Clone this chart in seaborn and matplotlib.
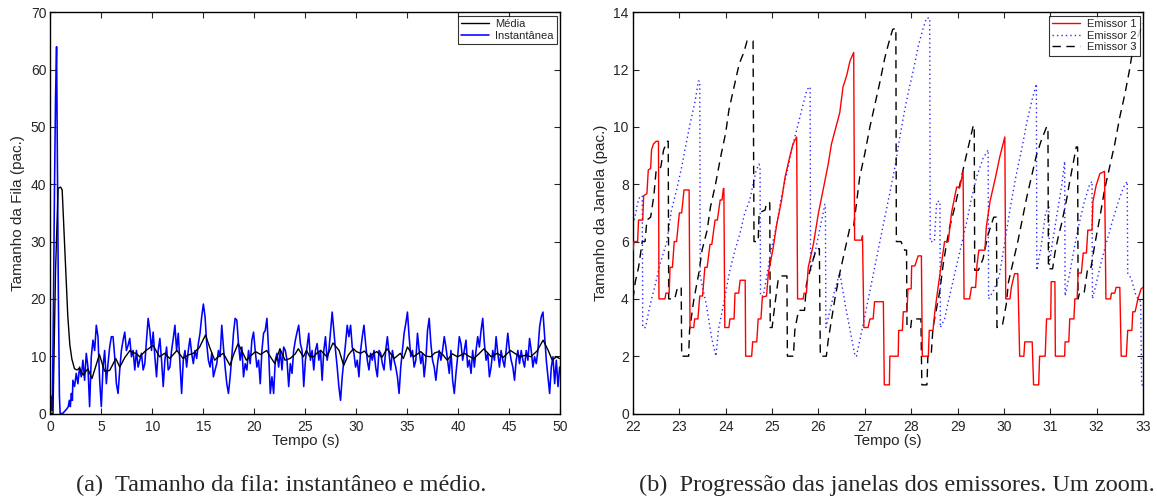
import numpy as np
import pandas as pd
import matplotlib
matplotlib.use("Agg")
import matplotlib.pyplot as plt
import seaborn as sns

# ---------------- (a) queue size: instantaneous and average ----------------
# start-up transient of the instantaneous queue (time s, packets)
inst_inicio_t = [0.0, 0.05, 0.12, 0.2, 0.3, 0.4, 0.5, 0.6, 0.68, 0.78, 0.88, 0.95,
                 1.2, 1.4, 1.6, 1.75, 1.85, 1.95, 2.05, 2.15]
inst_inicio_q = [0, 3.0, 0.5, 3.5, 20, 40, 55, 64, 45, 20, 3, 0,
                 0, 0.4, 0.8, 1.2, 2.3, 1.2, 3.5, 2.3]

# steady-state samples of the instantaneous queue, one every inst_dt seconds
inst_t0 = 2.2
inst_dt = 0.164
inst_q = [
    5.8, 4.7, 7.0, 5.2, 8.1, 6.4, 9.3, 5.8, 10.5, 8.1, 1.2, 9.9, 12.8, 11.0, 15.4, 13.4,
    5.8, 1.2, 8.1, 11.0, 5.2, 8.7, 11.6, 13.4, 13.4, 9.9, 5.2, 3.5, 7.6, 11.0, 12.8, 14.2,
    11.0, 11.9, 13.1, 9.9, 11.0, 7.6, 11.0, 8.1, 9.3, 10.5, 7.6, 8.7, 12.8, 16.6, 14.5, 11.0,
    14.2, 9.9, 6.4, 11.0, 13.1, 9.3, 4.7, 9.3, 11.6, 7.6, 8.1, 11.0, 13.1, 15.4, 11.0, 14.0,
    8.7, 3.5, 9.3, 11.0, 8.1, 11.0, 13.1, 10.5, 8.7, 11.0, 9.6, 12.2, 14.0, 16.9, 19.1, 16.9,
    12.2, 9.3, 8.1, 10.5, 6.4, 7.6, 8.7, 11.0, 9.9, 15.4, 11.6, 8.1, 5.2, 3.5, 6.4, 9.9,
    14.0, 16.6, 16.3, 12.2, 9.3, 11.6, 6.4, 8.7, 7.6, 11.0, 8.7, 12.8, 14.2, 11.0, 8.1, 9.3,
    5.2, 11.0, 14.0, 14.5, 16.6, 11.0, 3.5, 6.4, 3.5, 9.3, 10.5, 8.1, 11.0, 7.6, 11.6, 11.0,
    9.3, 4.7, 8.7, 7.0, 11.0, 12.8, 14.2, 15.4, 12.2, 11.0, 4.7, 9.3, 11.6, 14.0, 9.3, 11.0,
    7.6, 11.0, 12.2, 9.3, 11.0, 5.8, 11.0, 13.4, 9.3, 11.0, 14.2, 17.7, 14.5, 11.0, 8.1, 4.7,
    2.3, 6.4, 9.3, 12.2, 15.4, 13.4, 15.4, 11.6, 10.5, 8.1, 9.3, 6.4, 11.0, 13.4, 15.4, 12.2,
    9.3, 7.6, 10.5, 9.3, 11.0, 8.1, 6.4, 11.0, 10.5, 8.7, 7.6, 11.0, 13.4, 10.5, 7.6, 11.0,
    9.3, 8.1, 6.4, 3.5, 8.1, 11.0, 14.0, 15.7, 17.7, 13.4, 9.9, 11.0, 8.1, 9.3, 14.0, 11.0,
    8.7, 10.5, 6.4, 9.3, 14.5, 16.6, 12.2, 9.3, 8.1, 5.8, 8.7, 11.0, 9.3, 11.0, 13.4, 11.6,
    9.3, 7.0, 11.0, 5.8, 3.5, 7.0, 9.9, 13.4, 12.2, 9.3, 11.0, 12.8, 8.1, 9.3, 7.0, 11.0,
    8.1, 11.0, 13.4, 11.6, 14.5, 16.6, 12.2, 9.3, 10.5, 6.4, 8.1, 11.0, 9.3, 13.4, 10.5, 8.1,
    11.0, 9.3, 8.1, 11.0, 14.0, 11.0, 9.3, 8.1, 5.8, 9.3, 11.0, 8.7, 11.0, 9.3, 8.1, 11.0,
    9.3, 13.1, 11.0, 8.1, 9.9, 8.7, 11.0, 15.1, 16.9, 17.7, 13.4, 9.3, 6.4, 3.5, 8.1, 9.9,
    5.2, 9.3, 4.7, 8.1,
]

# average queue (time s, packets)
media_t = [0.0, 0.25, 0.5, 0.75, 1.0, 1.15, 1.3, 1.5, 1.7, 1.9, 2.1, 2.36, 2.6, 2.85, 3.2,
           3.67, 4.07, 4.4, 4.8, 5.3, 5.8, 6.1, 6.4, 6.8, 7.3, 7.8, 8.1, 8.4, 8.75, 9.3,
           10.07, 10.4, 10.7, 11.2, 11.7, 12.4, 13.0, 13.5, 14.0, 14.6, 15.2, 15.6, 16.1,
           16.5, 16.95, 17.6, 18.0, 18.4, 18.8, 19.2, 19.6, 20.1, 20.6, 21.2, 21.6, 22.0,
           22.5, 23.0, 23.5, 24.0, 24.3, 24.8, 25.1, 25.4, 25.8, 26.1, 26.5, 27.1, 27.7,
           28.3, 28.75, 29.2, 29.7, 30.0, 30.4, 30.8, 31.2, 31.6, 32.0, 32.5, 33.0, 33.7,
           34.3, 34.6, 35.0, 35.6, 36.0, 36.3, 36.8, 37.3, 37.7, 38.1, 38.5, 38.9, 39.4,
           39.9, 40.6, 41.0, 41.5, 42.0, 42.5, 43.2, 43.8, 44.4, 45.1, 45.6, 46.1, 46.6,
           47.1, 47.7, 48.3, 48.8, 49.2, 49.6, 49.9]
media_q = [0, 0, 25, 39.3, 39.5, 39.0, 33, 25, 17, 12, 9.5, 7.8, 7.6, 7.9, 6.7,
           7.8, 6.1, 8.0, 10.3, 7.4, 7.5, 8.5, 9.6, 8.1, 9.8, 11.0, 10.6, 10.5, 9.9, 10.9,
           11.9, 10.8, 9.9, 10.5, 9.6, 11.0, 9.6, 10.2, 10.5, 11.5, 13.7, 11.6, 9.3,
           10.0, 10.5, 8.4, 10.5, 12.2, 10.8, 9.3, 10.0, 10.8, 10.3, 11.0, 9.8, 8.7,
           11.3, 9.3, 9.6, 10.4, 11.3, 9.9, 11.0, 10.0, 9.9, 10.5, 11.0, 9.9, 12.3,
           11.0, 8.4, 10.2, 11.3, 10.8, 10.5, 10.9, 9.9, 10.4, 10.8, 9.8, 11.3, 9.6,
           10.5, 9.6, 11.6, 9.9, 10.4, 10.8, 10.0, 9.9, 10.6, 10.8, 10.2, 9.3, 10.4,
           9.9, 10.5, 10.0, 9.6, 10.4, 11.3, 9.9, 10.5, 9.8, 11.0, 10.4, 9.9, 10.2,
           9.9, 10.9, 12.8, 11.0, 9.3, 9.9, 9.6]

# ---------------- (b) sender congestion windows (zoom 22-33 s) ----------------
emissor1_t = [22.00, 22.02, 22.10, 22.12, 22.21, 22.23, 22.30, 22.33, 22.38, 22.40, 22.44, 22.50,
              22.55, 22.56, 22.69, 22.71, 22.78, 22.80, 22.85, 22.89, 22.94, 23.00, 23.05, 23.10,
              23.21, 23.23, 23.31, 23.33, 23.40, 23.44, 23.50, 23.55, 23.60, 23.66, 23.70, 23.77,
              23.82, 23.88, 23.92, 23.95, 23.96, 23.98, 24.07, 24.09, 24.18, 24.20, 24.28, 24.31,
              24.42, 24.43, 24.56, 24.58, 24.67, 24.70, 24.76, 24.79, 24.88, 24.92, 25.02, 25.10,
              25.20, 25.28, 25.38, 25.45, 25.53, 25.55, 25.67, 25.69, 25.74, 25.78, 25.89, 26.00,
              26.10, 26.21, 26.28, 26.46, 26.53, 26.61, 26.68, 26.76, 26.78, 26.93, 26.95, 26.98,
              27.07, 27.11, 27.18, 27.21, 27.40, 27.42, 27.53, 27.54, 27.72, 27.73, 27.81, 27.83,
              27.91, 27.93, 28.00, 28.01, 28.08, 28.15, 28.22, 28.24, 28.37, 28.39, 28.47, 28.51,
              28.58, 28.65, 28.72, 28.80, 28.87, 28.98, 29.05, 29.12, 29.14, 29.26, 29.30, 29.39,
              29.42, 29.46, 29.59, 29.62, 29.70, 29.82, 29.91, 29.98, 30.02, 30.04, 30.13, 30.16,
              30.23, 30.30, 30.34, 30.43, 30.45, 30.61, 30.64, 30.75, 30.77, 30.89, 30.92, 31.01,
              31.02, 31.10, 31.11, 31.31, 31.32, 31.40, 31.42, 31.51, 31.53, 31.58, 31.60, 31.67,
              31.71, 31.78, 31.81, 31.90, 31.92, 31.99, 32.07, 32.17, 32.20, 32.30, 32.32, 32.39,
              32.42, 32.50, 32.53, 32.64, 32.67, 32.76, 32.78, 32.83, 32.89, 32.96, 33.00]
emissor1_w = [5.7, 6.0, 6.0, 6.75, 6.75, 7.6, 7.67, 8.5, 8.55, 9.2, 9.4, 9.5,
              9.5, 4.0, 4.0, 4.2, 4.2, 5.1, 5.1, 6.0, 6.0, 7.0, 7.0, 7.8,
              7.8, 3.0, 3.0, 3.3, 3.3, 4.1, 4.1, 5.1, 5.1, 5.9, 5.9, 6.75,
              6.75, 7.45, 7.45, 7.85, 7.85, 3.0, 3.0, 3.3, 3.3, 4.2, 4.2, 4.65,
              4.65, 2.0, 2.0, 2.5, 2.5, 3.3, 3.3, 4.06, 4.1, 4.9, 5.75, 6.6,
              7.4, 8.25, 8.95, 9.4, 9.65, 4.0, 4.0, 4.2, 4.2, 5.1, 5.9, 7.0,
              7.8, 8.7, 9.4, 10.5, 11.4, 11.8, 12.3, 12.6, 6.05, 6.05, 6.2, 3.0,
              3.0, 3.3, 3.3, 3.9, 3.9, 1.0, 1.0, 2.0, 2.0, 2.9, 2.9, 3.55,
              3.55, 4.35, 4.35, 5.15, 5.15, 5.5, 5.5, 2.0, 2.0, 2.9, 2.9, 3.55,
              4.4, 5.2, 6.0, 6.0, 7.0, 7.9, 7.9, 8.45, 4.0, 4.0, 4.4, 4.4,
              5.2, 5.7, 5.7, 6.5, 7.4, 8.25, 8.95, 9.4, 9.65, 4.0, 4.0, 4.4,
              4.88, 4.88, 2.0, 2.0, 2.5, 2.5, 1.0, 1.0, 2.0, 2.0, 3.3, 3.3,
              4.6, 4.6, 2.0, 2.0, 2.5, 2.5, 3.3, 3.3, 4.0, 4.0, 4.9, 4.9,
              5.6, 5.6, 6.4, 6.4, 7.4, 7.96, 8.37, 8.45, 4.0, 4.0, 4.2, 4.2,
              4.4, 4.4, 2.0, 2.0, 2.9, 2.9, 3.55, 3.55, 4.0, 4.35, 4.4]

emissor2_t = [22.00, 22.06, 22.12, 22.20, 22.21, 22.27, 22.37, 22.48, 22.58, 22.73, 22.83, 22.94,
              23.05, 23.12, 23.23, 23.34, 23.41, 23.44, 23.45, 23.58, 23.70, 23.79, 23.84, 23.95,
              24.02, 24.09, 24.20, 24.31, 24.41, 24.52, 24.59, 24.66, 24.72, 24.74, 24.75, 24.81,
              24.88, 24.98, 25.10, 25.20, 25.32, 25.42, 25.53, 25.64, 25.75, 25.82, 25.83, 25.95,
              26.05, 26.14, 26.15, 26.16, 26.25, 26.35, 26.46, 26.60, 26.79, 26.82, 26.95, 27.10,
              27.25, 27.40, 27.54, 27.65, 27.75, 27.85, 27.95, 28.05, 28.15, 28.25, 28.33, 28.40,
              28.41, 28.50, 28.55, 28.62, 28.63, 28.72, 28.80, 28.90, 29.00, 29.10, 29.20, 29.30,
              29.42, 29.55, 29.66, 29.67, 29.78, 29.90, 30.02, 30.15, 30.25, 30.38, 30.50, 30.60,
              30.70, 30.71, 30.80, 30.90, 30.97, 30.98, 31.05, 31.15, 31.25, 31.31, 31.32, 31.42,
              31.52, 31.62, 31.72, 31.85, 31.90, 31.91, 32.00, 32.10, 32.20, 32.32, 32.45, 32.58,
              32.66, 32.67, 32.75, 32.85, 32.95, 32.97, 33.00]
emissor2_w = [6.6, 7.0, 7.5, 7.6, 3.0, 3.0, 3.8, 4.5, 5.2, 6.0, 7.1, 7.8,
              8.6, 9.2, 10.1, 10.9, 11.6, 11.6, 4.8, 3.8, 2.6, 2.0, 2.9, 3.8,
              4.4, 5.0, 5.7, 6.3, 7.0, 7.45, 8.0, 8.5, 8.7, 8.6, 4.1, 4.1,
              4.75, 5.7, 6.6, 7.55, 8.4, 9.2, 9.9, 10.6, 11.3, 11.4, 5.0, 5.8,
              6.6, 7.3, 7.3, 3.0, 3.6, 4.3, 4.9, 3.6, 2.0, 2.0, 3.0, 4.2,
              5.4, 6.6, 7.7, 8.6, 9.6, 10.5, 11.3, 12.0, 12.8, 13.4, 13.8, 13.8,
              6.0, 6.0, 7.4, 7.4, 3.0, 3.3, 3.9, 4.6, 5.3, 6.0, 6.7, 7.5,
              8.3, 8.9, 9.2, 4.0, 4.3, 4.8, 6.0, 7.3, 8.2, 9.2, 10.2, 10.9,
              11.5, 5.0, 5.8, 7.0, 7.2, 5.2, 6.0, 7.0, 8.0, 8.8, 4.1, 4.9,
              5.8, 6.6, 7.3, 8.0, 8.1, 4.0, 4.6, 5.3, 5.9, 6.6, 7.3, 7.9,
              8.1, 4.9, 4.7, 4.1, 3.9, 1.0, 1.0]

emissor3_t = [22.00, 22.05, 22.12, 22.20, 22.26, 22.30, 22.38, 22.45, 22.50, 22.60, 22.66, 22.74,
              22.76, 22.77, 22.90, 22.96, 23.04, 23.05, 23.20, 23.22, 23.31, 23.42, 23.49, 23.60,
              23.67, 23.78, 23.89, 24.00, 24.07, 24.18, 24.29, 24.39, 24.46, 24.59, 24.61, 24.70,
              24.72, 24.85, 24.88, 24.95, 24.96, 25.00, 25.06, 25.13, 25.20, 25.32, 25.33, 25.46,
              25.49, 25.57, 25.70, 25.74, 25.85, 25.96, 26.02, 26.04, 26.17, 26.21, 26.28, 26.36,
              26.46, 26.57, 26.68, 26.76, 26.89, 27.00, 27.11, 27.22, 27.33, 27.43, 27.51, 27.60,
              27.67, 27.68, 27.78, 27.86, 27.90, 27.91, 27.99, 28.01, 28.21, 28.23, 28.34, 28.36,
              28.43, 28.47, 28.55, 28.62, 28.69, 28.76, 28.83, 28.94, 29.05, 29.16, 29.26, 29.34,
              29.36, 29.37, 29.45, 29.55, 29.65, 29.78, 29.84, 29.85, 29.97, 30.05, 30.10, 30.20,
              30.30, 30.40, 30.50, 30.60, 30.70, 30.80, 30.92, 30.95, 30.96, 31.05, 31.10, 31.17,
              31.24, 31.35, 31.42, 31.49, 31.56, 31.59, 31.60, 31.63, 31.73, 31.81, 31.88, 31.96,
              32.07, 32.17, 32.28, 32.39, 32.50, 32.61, 32.71, 32.78, 32.89, 32.96, 33.00]
emissor3_w = [4.0, 4.6, 5.1, 6.0, 6.0, 6.75, 6.85, 7.6, 8.5, 8.6, 9.2, 9.5,
              9.5, 4.0, 4.0, 4.4, 4.4, 2.0, 2.0, 2.9, 3.95, 4.9, 5.7, 6.4,
              7.2, 8.0, 8.95, 9.8, 10.6, 11.4, 12.2, 12.6, 13.0, 13.0, 6.0, 6.0,
              7.0, 7.1, 7.35, 7.35, 3.0, 3.0, 3.8, 4.65, 4.8, 4.8, 2.0, 2.0,
              2.9, 3.6, 3.6, 4.5, 5.2, 5.75, 5.75, 2.0, 2.0, 2.55, 3.25, 4.06,
              4.9, 5.7, 6.5, 6.55, 8.25, 9.07, 10.0, 10.8, 11.6, 12.4, 12.9, 13.4,
              13.45, 6.0, 6.0, 5.7, 5.7, 3.0, 3.0, 3.3, 3.3, 1.0, 1.0, 2.0,
              2.0, 3.0, 3.7, 4.3, 5.2, 5.9, 6.5, 7.2, 8.0, 8.8, 9.5, 10.05,
              10.05, 5.0, 5.0, 5.4, 6.2, 6.85, 6.85, 3.0, 3.1, 3.8, 4.6, 5.3,
              6.0, 6.8, 7.6, 8.3, 9.0, 9.5, 10.0, 10.0, 5.05, 5.05, 5.6, 6.15,
              6.6, 7.45, 8.1, 8.7, 9.3, 9.3, 4.0, 4.2, 4.2, 5.1, 5.1, 5.9,
              6.85, 7.8, 8.6, 9.4, 10.35, 11.15, 12.0, 12.7, 13.15, 13.45, 13.6]

# ---------------- assemble tables ----------------
inst_t = list(inst_inicio_t) + list(inst_t0 + inst_dt * np.arange(len(inst_q)))
inst_all = list(inst_inicio_q) + list(inst_q)
df_inst = pd.DataFrame({"t": inst_t, "q": inst_all})
df_media = pd.DataFrame({"t": media_t, "q": media_q})
df_e1 = pd.DataFrame({"t": emissor1_t, "w": emissor1_w})
df_e2 = pd.DataFrame({"t": emissor2_t, "w": emissor2_w})
df_e3 = pd.DataFrame({"t": emissor3_t, "w": emissor3_w})

sns.set_style("ticks")
plt.rcParams["font.family"] = ["Liberation Sans", "DejaVu Sans"]

fig = plt.figure(figsize=(11.57, 5.0), dpi=100)
ax1 = fig.add_axes([0.0436, 0.173, 0.4408, 0.8024])
ax2 = fig.add_axes([0.5471, 0.173, 0.4408, 0.8024])

# left panel
sns.lineplot(data=df_media, x="t", y="q", ax=ax1, color="black", lw=1.0,
             estimator=None, sort=False, label="Média", zorder=3)
sns.lineplot(data=df_inst, x="t", y="q", ax=ax1, color="blue", lw=1.15,
             estimator=None, sort=False, label="Instantânea", zorder=2)
ax1.set_xlim(0, 50)
ax1.set_ylim(0, 70)
ax1.set_xticks(np.arange(0, 51, 5))
ax1.set_yticks(np.arange(0, 71, 10))
ax1.set_xlabel("Tempo (s)", fontsize=11, labelpad=0)
ax1.set_ylabel("Tamanho da Fila (pac.)", fontsize=11, labelpad=4)

# right panel
sns.lineplot(data=df_e1, x="t", y="w", ax=ax2, color="red", lw=1.0,
             estimator=None, sort=False, label="Emissor 1", zorder=4)
sns.lineplot(data=df_e2, x="t", y="w", ax=ax2, color="#2a2aff", lw=1.0,
             estimator=None, sort=False, label="Emissor 2", zorder=2,
             linestyle=(0, (1, 2.2)))
sns.lineplot(data=df_e3, x="t", y="w", ax=ax2, color="black", lw=1.0,
             estimator=None, sort=False, label="Emissor 3", zorder=3,
             linestyle=(0, (6, 4)))
ax2.set_xlim(22, 33)
ax2.set_ylim(0, 14)
ax2.set_xticks(np.arange(22, 34, 1))
ax2.set_yticks(np.arange(0, 15, 2))
ax2.set_xlabel("Tempo (s)", fontsize=11, labelpad=0)
ax2.set_ylabel("Tamanho da Janela (pac.)", fontsize=11, labelpad=4)

for ax in (ax1, ax2):
    ax.tick_params(direction="in", top=True, right=True, length=4, width=0.8,
                   labelsize=10)
    ax.tick_params(axis="x", pad=5)
    ax.tick_params(axis="y", pad=3)
    for s in ax.spines.values():
        s.set_visible(True)
        s.set_linewidth(1.0)
        s.set_color("black")
    leg = ax.legend(loc="upper right", fontsize=8, frameon=True, fancybox=False,
                    borderpad=0.3, handlelength=2.5, handletextpad=0.6,
                    labelspacing=0.15, borderaxespad=0.3)
    leg.get_frame().set_edgecolor("black")
    leg.get_frame().set_linewidth(0.8)

cap_font = ["Liberation Serif", "DejaVu Serif"]
fig.text(0.243, 0.017, "(a)  Tamanho da fila: instantâneo e médio.", ha="center",
         va="baseline", fontsize=17.5, family=cap_font)
fig.text(0.775, 0.017, "(b)  Progressão das janelas dos emissores. Um zoom.", ha="center",
         va="baseline", fontsize=17.5, family=cap_font)

fig.savefig("out.png", dpi=100)
